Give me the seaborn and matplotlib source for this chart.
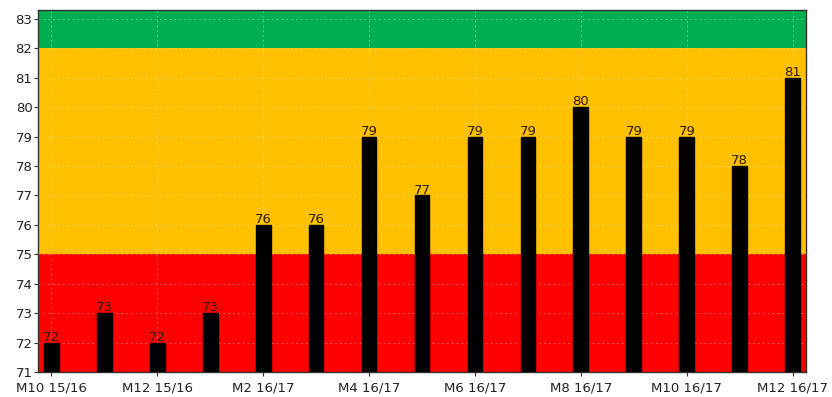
import matplotlib
matplotlib.use("Agg")
import matplotlib.pyplot as plt
import seaborn as sns
import pandas as pd

months = ["M10 15/16", "M11 15/16", "M12 15/16", "M1 16/17", "M2 16/17", "M3 16/17",
          "M4 16/17", "M5 16/17", "M6 16/17", "M7 16/17", "M8 16/17", "M9 16/17",
          "M10 16/17", "M11 16/17", "M12 16/17"]
values = [72, 73, 72, 73, 76, 76, 79, 77, 79, 79, 80, 79, 79, 78, 81]
band_edges = [71, 75, 82, 83.3]
band_colors = ["#FF0000", "#FFC000", "#00B050"]

sns.set_style("white")
plt.rcParams["font.family"] = ["DejaVu Sans"]

df = pd.DataFrame({"month": months, "value": values})

fig = plt.figure(figsize=(8.32, 3.97), dpi=100)
ax = fig.add_axes([38/832, 25/397, 768/832, 362/397])

sns.barplot(data=df, x="month", y="value", color="black", saturation=1,
            width=0.28, ax=ax, zorder=3)
for bar in ax.containers[0]:
    bar.set_facecolor("black")
    bar.set_edgecolor("black")

for lo, hi, c in zip(band_edges[:-1], band_edges[1:], band_colors):
    ax.axhspan(lo, hi, color=c, zorder=0, lw=0)

for i, v in enumerate(values):
    ax.text(i, v - 0.04, str(v), ha="center", va="bottom", fontsize=9.5,
            color="#2a1a10", zorder=4)

ax.set_ylim(71, 83.3)
ax.set_xlim(-0.25, 14.25)
ax.set_yticks(range(71, 84))
ax.set_xticks(range(0, 15, 2))
ax.set_xticklabels([months[i] for i in range(0, 15, 2)])
ax.set_xlabel("")
ax.set_ylabel("")
ax.tick_params(axis="both", labelsize=9.5, length=3, direction="out",
               color="#333333", labelcolor="#222222", left=True, bottom=True)
ax.tick_params(axis="y", pad=1)
ax.tick_params(axis="x", pad=3.5)
for s in ax.spines.values():
    s.set_color("#333333")
    s.set_linewidth(1)
ax.grid(True, color="white", linestyle=(0, (2, 3)), linewidth=0.7, alpha=0.35)
for gl in ax.get_xgridlines() + ax.get_ygridlines():
    gl.set_zorder(1)

fig.savefig("out.png", dpi=100)
